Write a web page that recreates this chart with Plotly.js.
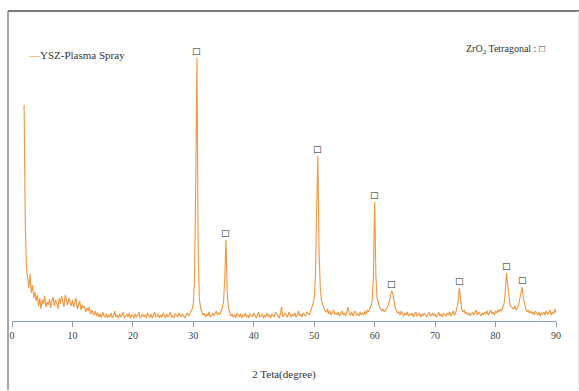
<!DOCTYPE html>
<html>
<head>
<meta charset="utf-8">
<script src="https://cdn.plot.ly/plotly-3.0.1.min.js"></script>
<style>html,body{margin:0;padding:0;background:#fff;}#chart{width:579px;height:391px;}</style>
</head>
<body>
<div id="chart"></div>
<script>
// 2-theta grid: start and step (degrees)
const twoThetaStart = 2.0;
const twoThetaStep = 0.2;
// Intensity (arbitrary units), one value per 0.2 degree from 2.0 to 90.0
const intensity = [
  2160, 950, 520, 400, 330, 470, 280, 360, 230, 290,   // 2.0
  200, 260, 150, 230, 120, 210, 170, 250, 140, 190,    // 4.0
  160, 220, 130, 200, 240, 150, 210, 180, 120, 230,    // 6.0
  170, 250, 190, 140, 260, 200, 160, 230, 180, 150,    // 8.0
  210, 140, 190, 230, 120, 170, 200, 110, 160, 130,    // 10.0
  150, 90, 130, 100, 140, 70, 110, 80, 60, 100,        // 12.0
  50, 80, 40, 70, 30, 90, 50, 40, 70, 30,              // 14.0
  60, 40, 80, 30, 50, 100, 40, 60, 30, 70,             // 16.0
  40, 60, 90, 30, 50, 70, 40, 80, 30, 60,              // 18.0
  50, 30, 70, 40, 60, 90, 30, 50, 70, 40,              // 20.0
  60, 30, 80, 50, 40, 70, 30, 60, 90, 40,              // 22.0
  50, 70, 30, 60, 40, 80, 50, 30, 70, 40,              // 24.0
  60, 90, 40, 50, 30, 70, 60, 40, 80, 50,              // 26.0
  40, 70, 50, 30, 60, 80, 50, 70, 90, 120,             // 28.0
  170, 420, 1400, 2630, 700, 220, 130, 90, 60, 80,     // 30.0
  40, 70, 50, 90, 40, 60, 80, 50, 70, 100,             // 32.0
  60, 80, 70, 100, 130, 200, 420, 810, 300, 130,       // 34.0
  80, 50, 70, 40, 60, 30, 80, 50, 40, 70,              // 36.0
  30, 60, 50, 80, 40, 60, 30, 70, 50, 40,              // 38.0
  80, 50, 30, 60, 90, 40, 50, 70, 30, 60,              // 40.0
  40, 80, 50, 60, 30, 70, 50, 40, 90, 60,              // 42.0
  50, 30, 70, 140, 40, 60, 80, 50, 40, 90,             // 44.0
  60, 40, 70, 50, 80, 40, 60, 100, 50, 70,             // 46.0
  40, 80, 60, 50, 90, 70, 60, 100, 130, 170,           // 48.0
  230, 450, 1100, 1650, 700, 330, 200, 160, 120, 100,  // 50.0
  90, 120, 70, 100, 60, 90, 110, 70, 80, 60,           // 52.0
  90, 50, 70, 100, 60, 80, 50, 90, 140, 70,            // 54.0
  60, 90, 50, 80, 100, 60, 70, 50, 90, 60,             // 56.0
  80, 60, 100, 70, 110, 90, 120, 150, 210, 450,        // 58.0
  1190, 450, 230, 170, 140, 120, 100, 120, 90, 110,    // 60.0
  130, 150, 190, 240, 300, 280, 180, 130, 100, 80,     // 62.0
  90, 60, 100, 70, 50, 80, 60, 90, 50, 70,             // 64.0
  60, 80, 40, 70, 90, 50, 60, 80, 40, 70,              // 66.0
  50, 80, 60, 40, 70, 90, 50, 60, 80, 50,              // 68.0
  70, 40, 60, 90, 50, 70, 40, 80, 60, 50,              // 70.0
  80, 60, 90, 50, 70, 100, 60, 80, 130, 190,           // 72.0
  330, 190, 120, 90, 110, 70, 90, 60, 80, 50,          // 74.0
  70, 90, 60, 80, 110, 60, 90, 70, 50, 80,             // 76.0
  60, 90, 70, 100, 60, 80, 110, 70, 90, 60,            // 78.0
  100, 80, 110, 90, 120, 100, 130, 170, 280, 480,      // 80.0
  370, 230, 160, 140, 130, 120, 150, 110, 130, 160,    // 82.0
  220, 280, 340, 230, 150, 120, 90, 110, 80, 100,      // 84.0
  70, 90, 60, 100, 80, 60, 90, 50, 80, 70,             // 86.0
  90, 60, 100, 70, 80, 110, 60, 90, 70, 120,           // 88.0
  80                                                   // 90.0
];
// Tetragonal ZrO2 peak positions and their heights (for the square markers)
const peakTwoTheta = [30.6, 35.4, 50.6, 60.0, 62.8, 74.0, 81.8, 84.4];
const peakIntensity = [2630, 810, 1650, 1190, 300, 330, 480, 340];
const xTickVals = [0, 10, 20, 30, 40, 50, 60, 70, 80, 90];
const seriesName = 'YSZ-Plasma Spray';
const phaseLabel = 'ZrO<sub>2</sub> Tetragonal : \u25A1';
const peakMark = '\u25A1';
const xTitle = '2 Teta(degree)';

const serif = 'Liberation Serif, Times New Roman, serif';
const lineColor = 'rgb(242,150,62)';

const trace = {
  type: 'scatter', mode: 'lines', name: seriesName,
  x0: twoThetaStart, dx: twoThetaStep, y: intensity,
  line: {color: lineColor, width: 1.1},
  showlegend: false, hoverinfo: 'skip'
};

const fx = v => (v - 12) / 544;   // pixel -> paper x helper for frame / labels
const fy = v => (321 - v) / 291;  // pixel -> paper y helper for frame / labels

const annotations = peakTwoTheta.map((px, i) => ({
  x: px, y: peakIntensity[i], xref: 'x', yref: 'y',
  text: peakMark, showarrow: false, yanchor: 'bottom', yshift: 0,
  font: {family: 'DejaVu Sans', size: 9, color: '#222'}
}));
// phase label (top right)
annotations.push({
  x: fx(464), y: fy(50), xref: 'paper', yref: 'paper', xanchor: 'left', yanchor: 'middle',
  text: phaseLabel, showarrow: false, font: {family: serif, size: 10, color: '#333'}
});
// series key (top left), drawn as a short orange dash followed by the series name
annotations.push({
  x: fx(26), y: fy(55), xref: 'paper', yref: 'paper', xanchor: 'left', yanchor: 'middle',
  text: '<span style="color:' + lineColor + '">\u2014</span>' + seriesName,
  showarrow: false, font: {family: serif, size: 11, color: '#333'}
});

const layout = {
  width: 579, height: 391,
  margin: {l: 12, r: 23, t: 30, b: 70},
  paper_bgcolor: '#fff', plot_bgcolor: 'rgba(0,0,0,0)',
  font: {family: serif, color: '#404040'},
  xaxis: {
    range: [0, 90], tickvals: xTickVals, ticks: 'outside', ticklen: 5,
    tickcolor: '#8c9bb0', showline: true, linecolor: '#8c9bb0', linewidth: 1,
    showgrid: false, zeroline: false, tickfont: {family: serif, size: 10, color: '#404040'},
    title: {text: xTitle, font: {family: serif, size: 11, color: '#333'}, standoff: 30}
  },
  yaxis: {range: [0, 2910], visible: false, showgrid: false, zeroline: false},
  showlegend: false,
  annotations: annotations,
  shapes: [
    {type: 'line', xref: 'paper', yref: 'paper', x0: fx(8), x1: fx(579), y0: fy(11), y1: fy(11),
     line: {color: '#7a7a7a', width: 2}, layer: 'above'},
    {type: 'line', xref: 'paper', yref: 'paper', x0: fx(8), x1: fx(8), y0: fy(11), y1: fy(390),
     line: {color: '#8a8a8a', width: 1.5}, layer: 'above'},
    {type: 'line', xref: 'paper', yref: 'paper', x0: fx(578), x1: fx(578), y0: fy(11), y1: fy(390),
     line: {color: '#e4e4e4', width: 1}, layer: 'above'}
  ]
};

Plotly.newPlot('chart', [trace], layout, {displayModeBar: false, staticPlot: true});
</script>
</body>
</html>
